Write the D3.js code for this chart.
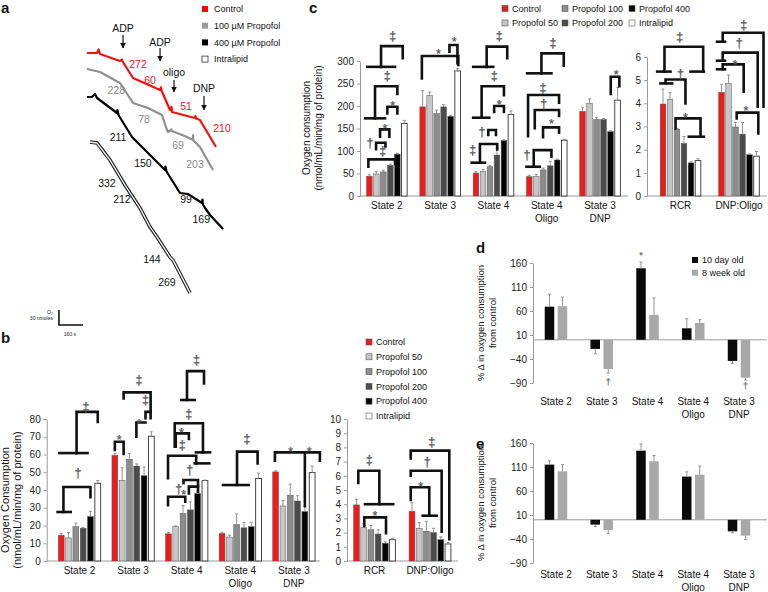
<!DOCTYPE html>
<html>
<head>
<meta charset="utf-8">
<script src="https://cdn.jsdelivr.net/npm/d3@7"></script>
<style>
body { margin: 0; background: #fff; }
</style>
</head>
<body>
<script>
var FONT = "Liberation Sans, Arial, Helvetica, sans-serif";

// ---------- panel a : oxygraph traces, [time s, O2 nmol]
var traceControl = [[0,492],[67,492],[77,499],[87,490],[220,476],[233,479],[237,475],[307,442],[487,418],[493,423],[497,417],[553,378],[563,384],[567,374],[720,362],[723,366],[727,361],[753,358],[860,304]];
var trace100 = [[0,460],[87,454],[207,434],[220,432],[307,392],[407,382],[500,368],[533,338],[540,334],[563,339],[567,336],[667,324],[707,318],[707,328],[710,317],[753,304],[840,258]];
var trace400 = [[0,404],[33,404],[53,410],[67,402],[200,372],[203,378],[210,368],[300,324],[373,302],[520,258],[523,265],[530,255],[620,212],[673,210],[767,192],[770,199],[773,189],[787,182],[820,168],[907,140]];
var traceIntralipid = [[20,314],[67,312],[153,278],[253,228],[353,182],[420,144],[467,124],[553,84],[573,78],[687,12]];

var rateControl = [[340,470,"272"],[420,438,"60"],[660,386,"51"],[900,342,"210"]];
var rate100 = [[195,418,"228"],[380,360,"78"],[607,308,"69"],[720,270,"203"]];
var rate400 = [[207,324,"211"],[373,272,"150"],[660,200,"99"],[762,160,"169"]];
var rateIntralipid = [[133,232,"332"],[233,200,"212"],[433,80,"144"],[533,34,"269"]];

var additions = [["ADP",240,542,528,502],["ADP",487,514,502,476],["oligo",580,454,438,414],["DNP",780,422,406,378]];

var aLegend = ["Control","100 \u00b5M Propofol","400 \u00b5M Propofol","Intralipid"];

// ---------- panels b and c
var treatNames = ["Control","Propofol 50","Propofol 100","Propofol 200","Propofol 400","Intralipid"];
var treatColors = ["#ee1b1b","#c6c6c6","#8c8c8c","#4b4b4b","#050505","#ffffff"];
var stateCats = ["State 2","State 3","State 4","State 4\nOligo","State 3\nDNP"];
var ratioCats = ["RCR","DNP:Oligo"];

var bControl = [14.5,59.5,15.3,15.5,50.2], bControlErr = [1,1,0.8,0.7,0.6];
var bP50 = [13,45.5,19.3,13.5,31], bP50Err = [3,7,0.5,1,3];
var bP100 = [19.3,57.3,26.7,20.5,37], bP100Err = [2,3.3,4.5,6,6.3];
var bP200 = [18.5,53.5,28.8,18.7,33.8], bP200Err = [0.5,1.2,4.5,3,3];
var bP400 = [25,48,38,19.3,27.8], bP400Err = [3,5,1,2.5,2.5];
var bIntra = [43.8,70.3,45.3,46.5,49.8], bIntraErr = [1.5,2.5,0.3,3,3.7];

var bRatioControl = [3.95,3.5], bRatioControlErr = [0.4,0.6];
var bRatioP50 = [2.35,2.3], bRatioP50Err = [0.3,0.4];
var bRatioP100 = [2.2,2.1], bRatioP100Err = [0.3,0.7];
var bRatioP200 = [1.9,2.0], bRatioP200Err = [0.3,0.3];
var bRatioP400 = [1.25,1.5], bRatioP400Err = [0.1,0.2];
var bRatioIntra = [1.5,1.2], bRatioIntraErr = [0.1,0.1];

var cControl = [44,198,51,43,188], cControlErr = [3,36,3,3,8];
var cP50 = [49,223,55,44,206], cP50Err = [5,8,4,4,10];
var cP100 = [53.5,183,65,58,170], cP100Err = [4,8,3,4,5];
var cP200 = [68,198,91,67,170], cP200Err = [3,5,15,10,2];
var cP400 = [93,177,123,80,143], cP400Err = [2,2,2,2,2];
var cIntra = [161,278,181,124,213], cIntraErr = [7,5,8,2,28];

var cRatioControl = [3.97,4.47], cRatioControlErr = [0.65,0.35];
var cRatioP50 = [4.18,4.87], cRatioP50Err = [0.28,0.35];
var cRatioP100 = [2.88,2.98], cRatioP100Err = [0.04,0.2];
var cRatioP200 = [2.27,2.67], cRatioP200Err = [0.3,0.5];
var cRatioP400 = [1.43,1.78], cRatioP400Err = [0.04,0.03];
var cRatioIntra = [1.53,1.72], cRatioIntraErr = [0.08,0.2];

// significance brackets: [group, [[barPos, value], ...]] ; symbols: [group, barPos, value, glyph]
var bBrackets = [
  [0,[[-0.5,27.6],[1.3,27.6]]],[0,[[0.3,27.6],[0.3,41.7],[4,41.7],[4,36]]],
  [0,[[-0.25,60.8],[3.6,60.8]]],[0,[[2.1,60.8],[2.1,84],[5,84],[5,78.3]]],
  [1,[[0,62.5],[0,67.2],[1.2,67.2],[1.2,60.3]]],[1,[[2.95,70],[2.95,78],[4.2,78]]],
  [1,[[4.2,80.4],[4.2,84],[4.9,84]]],[1,[[1.2,91.6],[1.2,95],[4.9,95],[4.9,80.4]]],
  [2,[[1.77,90.7],[3.6,90.7]]],[2,[[2.54,90.7],[2.54,107],[4.87,107],[4.87,100]]],
  [2,[[0.86,64.4],[0.86,77.6],[4.73,77.6],[4.73,61.2]]],[2,[[3.77,61.2],[5.7,61.2]]],
  [2,[[1,64.4],[1,71.9],[2.8,71.9],[2.8,68.7]]],
  [2,[[-0.06,46.6],[-0.06,59.3],[3.8,59.3],[3.8,55]]],[2,[[3.6,55],[5.6,55]]],
  [2,[[-0.06,31.5],[-0.06,36.2],[2.3,36.2],[2.3,33.4]]],
  [2,[[2.8,38],[2.8,41.9],[4.05,41.9],[4.05,39]]],
  [2,[[2.06,43.8],[2.06,45.6],[4.05,45.6],[4.05,42]]],
  [3,[[0.13,42.8],[3.64,42.8]]],[3,[[2.05,42.8],[2.05,61.6],[4.87,61.6],[4.87,55]]],
  [4,[[-0.1,56.5],[-0.1,61.2],[6.06,61.2],[6.06,56.5]]],[4,[[4,61.2],[4,31]]]
];
var bSymbols = [
  [0,2.3,50,"\u2020"],[0,3.4,87,"\u2021"],
  [1,0.6,70.5,"*"],[1,3.3,79.5,"*"],[1,4.2,90.7,"\u2021"],[1,3.3,102,"\u2021"],
  [2,3.83,113.5,"\u2021"],[2,2.77,83.2,"\u2021"],[2,1.77,74.5,"*"],[2,1.9,65.4,"\u2021"],
  [2,1.4,40.5,"\u2020"],[2,2.1,39.5,"*"],[2,2.9,51.3,"\u2020"],
  [3,3.4,69,"\u2021"],
  [4,2.05,63.5,"*"],[4,4.6,63.5,"*"]
];
var bRatioBrackets = [
  [0,[[0.25,5.5],[0.25,6.36],[3.17,6.36],[3.17,4.0]]],[0,[[1.18,4.0],[5.1,4.0]]],
  [0,[[1.08,2.46],[1.08,3.07],[4.1,3.07],[4.1,1.95]]],
  [1,[[-0.18,4.3],[-0.18,5.19],[2.4,5.19],[2.4,3.19]]],[1,[[1.49,3.19],[3.43,3.19]]],
  [1,[[-0.18,6.0],[-0.18,6.36],[4.12,6.36],[4.12,2.07]]],
  [1,[[-0.18,7.23],[-0.18,7.77],[5.18,7.77],[5.18,1.53]]]
];
var bRatioSymbols = [[0,1.78,7.16,"\u2021"],[0,2.57,3.4,"*"],[1,1.2,5.5,"*"],[1,2.13,7.0,"\u2020"],[1,2.73,8.4,"\u2021"]];

var cBrackets = [
  [0,[[-0.29,287],[3.67,287]]],[0,[[1.67,287],[1.67,333],[4.77,333],[4.77,306]]],
  [0,[[-0.6,172.6],[2.24,172.6]]],[0,[[0.81,172.6],[0.81,244],[4,244],[4,226.7]]],
  [0,[[2.57,183.7],[2.57,198.5],[4,198.5],[4,183.7]]],
  [0,[[1.53,131.8],[1.53,148],[2.86,148],[2.86,131.8]]],
  [0,[[0.96,104],[0.96,118.5],[2.3,118.5],[2.3,110]]],
  [0,[[-0.14,65],[-0.14,81.5],[3.67,81.5],[3.67,71]]],
  [1,[[-0.11,261.5],[-0.11,311],[5.1,311],[5.1,291]]],[1,[[3.83,320.7],[3.83,335.6],[4.97,335.6],[4.97,295]]],
  [2,[[-0.39,287],[2.47,287]]],[2,[[1.53,287],[1.53,332],[4.47,332],[4.47,306]]],
  [2,[[-0.4,174],[1.9,174]]],[2,[[0.81,174],[0.81,244],[4,244],[4,224]]],
  [2,[[2.6,187],[2.6,200],[4,200],[4,187]]],
  [2,[[1.76,135.6],[1.76,146.7],[2.86,146.7],[2.86,135.6]]],
  [2,[[-0.61,74],[1.29,74]]],[2,[[0.57,74],[0.57,115.6],[3.04,115.6],[3.04,103.7]]],
  [3,[[-0.31,272.6],[3.17,272.6]]],[3,[[1.74,272.6],[1.74,317],[4.93,317],[4.93,289.6]]],
  [3,[[-0.17,133],[-0.17,224.4],[4.26,224.4],[4.26,207.4]]],
  [3,[[0.79,150.4],[0.79,191],[4.26,191],[4.26,177.8]]],
  [3,[[1.97,130.4],[1.97,152.6],[4.26,152.6],[4.26,140.7]]],
  [3,[[-0.4,65],[1.5,65]]],[3,[[0.64,65],[0.64,102],[3.17,102],[3.17,87.4]]],
  [4,[[4.03,226.7],[4.03,265],[5.26,265],[5.26,244]]]
];
var cSymbols = [
  [0,3.34,355.6,"\u2021"],[0,2.57,266.7,"\u2021"],[0,3.34,209,"*"],[0,2.24,157,"*"],[0,1.9,100,"\u2021"],[0,0.1,118.5,"\u2020"],
  [1,2.26,324,"*"],[1,4.5,350,"*"],
  [2,3.33,355.6,"\u2021"],[2,2.6,268,"\u2021"],[2,3.33,211,"*"],[2,0.86,143,"\u2020"],[2,-0.47,102,"\u2021"],
  [3,3.4,340.7,"\u2021"],[3,1.97,241.5,"\u2021"],[3,2.07,206,"\u2020"],[3,3.17,168,"*"],[3,-0.31,93,"\u2020"],
  [4,4.79,278,"*"]
];
var cRatioBrackets = [
  [0,[[-0.83,5.37],[1.07,5.37]]],[0,[[0.21,5.37],[0.21,6.44],[5.74,6.44],[5.74,5.37]]],[0,[[3.93,5.37],[5.83,5.37]]],
  [0,[[-0.36,4.86],[1.31,4.86]]],[0,[[0.36,4.86],[0.36,5.03],[3.21,5.03],[3.21,4.0]]],
  [0,[[1.79,2.92],[1.79,3.35],[5.36,3.35],[5.36,2.56]]],[0,[[3.69,2.56],[5.83,2.56]]],
  [1,[[-0.64,6.66],[0.5,6.66]]],[1,[[0.17,6.66],[0.17,7.05],[6.0,7.05],[6.0,3.86]]],
  [1,[[-0.64,5.84],[0.5,5.84]]],[1,[[0.17,5.84],[0.17,6.19],[5.17,6.19],[5.17,3.86]]],
  [1,[[-0.64,5.47],[0.5,5.47]]],[1,[[0.17,5.47],[0.17,5.68],[3.17,5.68],[3.17,4.5]]],
  [1,[[2.17,3.35],[2.17,3.6],[5.26,3.6],[5.26,2.7]]]
];
var cRatioSymbols = [[0,2.4,6.9,"\u2021"],[0,2.5,5.3,"\u2020"],[0,3.21,3.55,"*"],[1,3.17,7.38,"\u2021"],[1,2.55,6.62,"\u2020"],[1,1.93,5.82,"*"],[1,3.5,3.82,"*"]];

// ---------- panels d and e : % change from control
var ageNames = ["10 day old","8 week old"];
var ageColors = ["#0a0a0a","#a8a8a8"];
var dTenDay = [69,-19,149,24,-44], dTenDayErr = [26,10,13,20,5];
var dEightWeek = [70,-61,52,35,-79], dEightWeekErr = [19,8,35,7,5];
var dSymbols = [[2,0,181,"*"],[1,1,-87,"\u2020"],[4,1,-96,"\u2020"]];
var eTenDay = [115,-10,144,90,-24], eTenDayErr = [8,4,14,10,3];
var eEightWeek = [101,-21,122,94,-33], eEightWeekErr = [14,7,12,18,8];
var pctTicks = [-90,-40,10,60,110,160];

var svg = d3.select("body").append("svg").attr("width", 768).attr("height", 592)
  .attr("font-family", FONT);

function txt(x, y, s, size, opts) {
  opts = opts || {};
  return svg.append("text").attr("x", x).attr("y", y).text(s)
    .attr("font-size", size).attr("fill", opts.fill || "#111")
    .attr("font-weight", opts.bold ? "bold" : null)
    .attr("text-anchor", opts.anchor || "start");
}

// ================= panel a =================
txt(1, 13, "a", 15, {bold: true});
var aX = d3.scaleLinear().domain([0, 1000]).range([87, 237]);
var aY = d3.scaleLinear().domain([500, 0]).range([49, 299]);
var aLine = d3.line().x(function(d){ return aX(d[0]); }).y(function(d){ return aY(d[1]); });

svg.append("path").datum(traceIntralipid).attr("d", aLine).attr("fill", "none").attr("stroke", "#222").attr("stroke-width", 3.6);
svg.append("path").datum(traceIntralipid).attr("d", aLine).attr("fill", "none").attr("stroke", "#fff").attr("stroke-width", 1.3);
[[traceControl,"#f21010"],[trace100,"#8f8f8f"],[trace400,"#000"]].forEach(function(t){
  svg.append("path").datum(t[0]).attr("d", aLine).attr("fill", "none").attr("stroke", t[1]).attr("stroke-width", 2.2).attr("stroke-linejoin", "round");
});
[[rateControl,"#ee1010"],[rate100,"#8a8a8a"],[rate400,"#111"],[rateIntralipid,"#111"]].forEach(function(r){
  svg.selectAll(null).data(r[0]).enter().append("text")
    .attr("x", function(d){ return aX(d[0]); }).attr("y", function(d){ return aY(d[1]); })
    .attr("dy", "0.35em").attr("text-anchor", "middle").attr("font-size", 10.5).attr("fill", r[1])
    .text(function(d){ return d[2]; });
});
svg.append("defs").append("marker").attr("id", "arr").attr("viewBox", "0 0 10 10").attr("refX", 9).attr("refY", 5)
  .attr("markerWidth", 5).attr("markerHeight", 5).attr("orient", "auto")
  .append("path").attr("d", "M0,0L10,5L0,10Z").attr("fill", "#111");
additions.forEach(function(a){
  txt(aX(a[1]), aY(a[2]), a[0], 10.5, {anchor: "middle"}).attr("dy", "0.35em");
  svg.append("line").attr("x1", aX(a[1])).attr("x2", aX(a[1])).attr("y1", aY(a[3])).attr("y2", aY(a[4]))
    .attr("stroke", "#111").attr("stroke-width", 1.2).attr("marker-end", "url(#arr)");
});
// scale bar: 160 s by 30 nmoles
var sbX = aX(-187), sbY = aY(-52);
svg.append("path").attr("fill", "none").attr("stroke", "#111").attr("stroke-width", 1.6)
  .attr("d", "M" + sbX + "," + (sbY - (aY(0) - aY(30))) + "V" + sbY + "H" + (sbX + aX(160) - aX(0)));
txt(sbX - 6, sbY - 11, "O\u2082", 5, {anchor: "end"});
txt(sbX - 6, sbY - 5, "30 nmoles", 5, {anchor: "end"});
txt(sbX + 11, sbY + 11, "160 s", 5, {anchor: "middle"});
// legend a
aLegend.forEach(function(name, i){
  var y = 9 + i * 16.7;
  svg.append("rect").attr("x", 202).attr("y", y - 3).attr("width", 6).attr("height", 6)
    .attr("fill", ["#f00","#999","#000","#fff"][i]).attr("stroke", i === 3 ? "#333" : "none").attr("stroke-width", 0.8);
  txt(214, y, name, 9).attr("dy", "0.35em");
});

// ================= generic bar panel =================
function barPanel(cfg) {
  var x = d3.scaleBand().domain(cfg.cats).range(cfg.range);
  var n = cfg.vals.length;
  var nMid = cfg.mid !== undefined ? cfg.mid : (n - 1) / 2;
  function px(ci, pos) { return x(cfg.cats[ci]) + x.bandwidth() / 2 + (pos - nMid) * cfg.step; }
  var y = cfg.y;
  // baseline
  svg.append("line").attr("x1", cfg.axisX).attr("x2", cfg.baseEnd).attr("y1", y(0)).attr("y2", y(0))
    .attr("stroke", "#9a9a9a").attr("stroke-width", 1);
  cfg.vals.forEach(function(series, si){
    var g = svg.append("g");
    g.selectAll("rect").data(series).enter().append("rect")
      .attr("x", function(d, i){ return px(i, si) - cfg.width / 2; })
      .attr("y", function(d){ return y(Math.max(d, 0)); })
      .attr("width", cfg.width)
      .attr("height", function(d){ return Math.abs(y(d) - y(0)); })
      .attr("fill", cfg.colors[si])
      .attr("stroke", cfg.colors[si] === "#ffffff" ? "#333" : (cfg.outline || "none"))
      .attr("stroke-width", cfg.colors[si] === "#ffffff" ? 0.9 : 0.5);
    var errs = cfg.errs[si];
    g.selectAll("path.err").data(series).enter().append("path")
      .attr("fill", "none").attr("stroke", "#888").attr("stroke-width", 0.9)
      .attr("d", function(d, i){
        var e = d >= 0 ? d + errs[i] : d - errs[i];
        var xx = px(i, si);
        return "M" + xx + "," + y(d) + "V" + y(e) + "M" + (xx - 1.5) + "," + y(e) + "H" + (xx + 1.5);
      });
  });
  // category labels
  cfg.cats.forEach(function(c, i){
    c.split("\n").forEach(function(line, k){
      txt(px(i, nMid), cfg.labelY + k * cfg.lineH, line, cfg.labelSize, {anchor: "middle"});
    });
  });
  // y axis
  if (cfg.ticks) {
    var ax = svg.append("g").attr("transform", "translate(" + cfg.axisX + ",0)")
      .call(d3.axisLeft(y).tickValues(cfg.ticks).tickFormat(d3.format("d")).tickSize(3).tickSizeOuter(0).tickPadding(3));
    ax.attr("font-family", FONT).attr("font-size", cfg.tickSize || 10);
    ax.select(".domain").attr("stroke", "#9a9a9a");
    ax.selectAll(".tick line").attr("stroke", "#9a9a9a");
    ax.selectAll(".tick text").attr("fill", "#222");
  }
  // brackets and symbols
  var bl = d3.line().x(function(d){ return d[0]; }).y(function(d){ return d[1]; });
  (cfg.brackets || []).forEach(function(b){
    svg.append("path").attr("fill", "none").attr("stroke", "#111").attr("stroke-width", 2.6)
      .attr("stroke-linecap", "square")
      .attr("d", bl(b[1].map(function(p){ return [px(b[0], p[0]), y(p[1])]; })));
  });
  (cfg.symbols || []).forEach(function(s){
    svg.append("text").attr("x", px(s[0], s[1])).attr("y", y(s[2]))
      .attr("dy", s[3] === "*" ? "0.62em" : "0.35em").attr("text-anchor", "middle")
      .attr("font-size", cfg.symSize || 12.5).attr("fill", "#555")
      .attr("stroke", "#555").attr("stroke-width", 0.25).text(s[3]);
  });
  return px;
}

function yTitle(x, yc, s, size) {
  svg.append("text").attr("transform", "translate(" + x + "," + yc + ") rotate(-90)")
    .attr("text-anchor", "middle").attr("font-size", size).attr("fill", "#111").text(s);
}

// ================= panel b =================
txt(1, 343, "b", 15, {bold: true});
var bY = d3.scaleLinear().domain([0, 80]).range([561, 419]);
barPanel({cats: stateCats, range: [52.7, 320.7], y: bY, axisX: 46.7, baseEnd: 320,
  vals: [bControl,bP50,bP100,bP200,bP400,bIntra], errs: [bControlErr,bP50Err,bP100Err,bP200Err,bP400Err,bIntraErr],
  colors: treatColors, outline: "#555", step: 7.3, width: 5.8, mid: 2.5,
  ticks: d3.range(0, 81, 10), labelY: 574, lineH: 13, labelSize: 10,
  brackets: bBrackets, symbols: bSymbols});
var bRY = d3.scaleLinear().domain([0, 10]).range([561, 419]);
barPanel({cats: ratioCats, range: [346.75, 457.75], y: bRY, axisX: 347, baseEnd: 458,
  vals: [bRatioControl,bRatioP50,bRatioP100,bRatioP200,bRatioP400,bRatioIntra],
  errs: [bRatioControlErr,bRatioP50Err,bRatioP100Err,bRatioP200Err,bRatioP400Err,bRatioIntraErr],
  colors: treatColors, outline: "#555", step: 7.2, width: 5.8, mid: 2.5,
  ticks: d3.range(0, 11, 1), labelY: 574, lineH: 13, labelSize: 10,
  brackets: bRatioBrackets, symbols: bRatioSymbols});
yTitle(9, 500, "Oxygen Consumption", 11);
yTitle(21, 500, "(nmol/mL/min/mg of protein)", 11);
treatNames.forEach(function(name, i){
  var y = 342 + i * 14.8;
  svg.append("rect").attr("x", 366).attr("y", y - 3).attr("width", 6).attr("height", 6)
    .attr("fill", treatColors[i]).attr("stroke", "#555").attr("stroke-width", 0.6);
  txt(376, y, name, 9).attr("dy", "0.35em");
});

// ================= panel c =================
txt(309, 13, "c", 15, {bold: true});
var cY = d3.scaleLinear().domain([0, 300]).range([196, 61]);
barPanel({cats: stateCats, range: [360.2, 626.7], y: cY, axisX: 360, baseEnd: 628,
  vals: [cControl,cP50,cP100,cP200,cP400,cIntra], errs: [cControlErr,cP50Err,cP100Err,cP200Err,cP400Err,cIntraErr],
  colors: treatColors, outline: "#555", step: 7.0, width: 5.6, mid: 2.5,
  ticks: d3.range(0, 301, 50), labelY: 209, lineH: 13, labelSize: 10,
  brackets: cBrackets, symbols: cSymbols});
var cRY = d3.scaleLinear().domain([0, 6]).range([196, 57]);
barPanel({cats: ratioCats, range: [651.25, 768.25], y: cRY, axisX: 647, baseEnd: 767,
  vals: [cRatioControl,cRatioP50,cRatioP100,cRatioP200,cRatioP400,cRatioIntra],
  errs: [cRatioControlErr,cRatioP50Err,cRatioP100Err,cRatioP200Err,cRatioP400Err,cRatioIntraErr],
  colors: treatColors, outline: "#555", step: 7.0, width: 5.6, mid: 2.5,
  ticks: d3.range(0, 7, 1), labelY: 209, lineH: 13, labelSize: 10,
  brackets: cRatioBrackets, symbols: cRatioSymbols});
yTitle(310, 128, "Oxygen consumption", 10);
yTitle(322, 128, "(nmol/mL/min/mg of protein)", 10);
treatNames.forEach(function(name, i){
  var order = [[0,0],[0,1],[1,0],[1,1],[2,0],[2,1]][i];
  var x = [502, 562, 629][order[0]], y = 8.5 + order[1] * 14.5;
  svg.append("rect").attr("x", x).attr("y", y - 3).attr("width", 6).attr("height", 6)
    .attr("fill", treatColors[i]).attr("stroke", "#555").attr("stroke-width", 0.6);
  txt(x + 10, y, name, 9).attr("dy", "0.35em");
});

// ================= panels d and e =================
function pctPanel(letter, letterY, yTop, labelY, vals, errs, syms) {
  var y = d3.scaleLinear().domain([-90, 160]).range([yTop + 120, yTop]);
  txt(476, letterY, letter, 15, {bold: true});
  var px = barPanel({cats: stateCats, range: [533.1, 761.9], y: y, axisX: 533, baseEnd: 767,
    vals: vals, errs: errs, colors: ageColors, outline: "none", step: 13, width: 9.5,
    ticks: pctTicks, labelY: labelY, lineH: 12.5, labelSize: 10});
  (syms || []).forEach(function(s){
    svg.append("text").attr("x", px(s[0], s[1])).attr("y", y(s[2])).attr("dy", s[3] === "*" ? "0.6em" : "0.35em")
      .attr("text-anchor", "middle").attr("font-size", 9)
      .attr("fill", "#666").attr("stroke", "#666").attr("stroke-width", 0.2).text(s[3]);
  });
  yTitle(484, yTop + 60, "% \u0394 in oxygen consumption", 9.5);
  yTitle(496, yTop + 60, "from control", 9.5);
}
pctPanel("d", 253, 263, 405, [dTenDay, dEightWeek], [dTenDayErr, dEightWeekErr], dSymbols);
pctPanel("e", 449, 443, 578, [eTenDay, eEightWeek], [eTenDayErr, eEightWeekErr], []);
ageNames.forEach(function(name, i){
  var y = 260 + i * 12.7;
  svg.append("rect").attr("x", 692).attr("y", y - 3).attr("width", 6).attr("height", 6).attr("fill", ageColors[i]);
  txt(702, y, name, 9).attr("dy", "0.35em");
});
</script>
</body>
</html>
